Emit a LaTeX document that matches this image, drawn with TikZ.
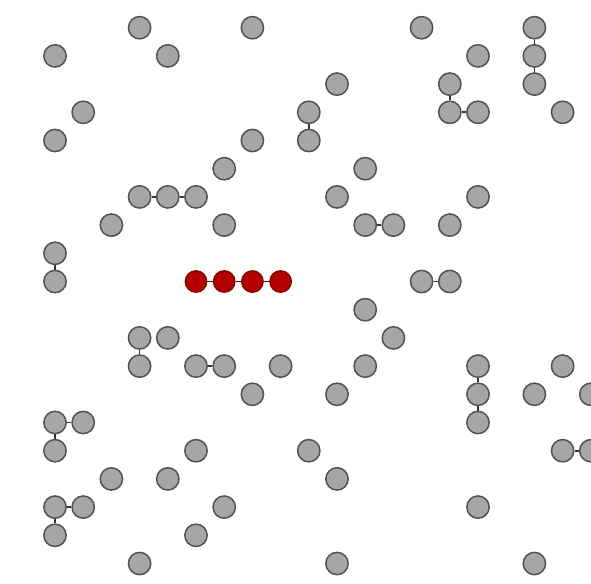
\documentclass[tikz,border=0pt]{standalone}
\begin{document}
\begin{tikzpicture}[x=0.03cm,y=-0.03cm,
  gnode/.style={circle,draw=black!68,fill=black!35,line width=0.045cm,minimum size=0.67cm,inner sep=0pt},
  rnode/.style={circle,draw=red!55!black,fill=red!70!black,line width=0.045cm,minimum size=0.64cm,inner sep=0pt},
  link/.style={draw=black!80,line width=0.05cm},
  rlink/.style={draw=red!40!black,line width=0.05cm}]
\useasboundingbox (0,0) rectangle (591,583);
\clip (0,0) rectangle (591,583);
% grey nodes: name n<row>-<col>
\foreach \r/\c in {0/4,0/8,0/14,0/18,
  1/1,1/5,1/16,1/18,
  2/11,2/15,2/18,
  3/2,3/10,3/15,3/16,3/19,
  4/1,4/8,4/10,
  5/7,5/12,
  6/4,6/5,6/6,6/11,6/16,
  7/3,7/7,7/12,7/13,7/15,
  8/1,
  9/1,9/14,9/15,
  10/12,
  11/4,11/5,11/13,
  12/4,12/6,12/7,12/9,12/12,12/16,12/19,
  13/8,13/11,13/16,13/18,13/20,
  14/1,14/2,14/16,
  15/1,15/6,15/10,15/19,15/20,
  16/3,16/5,16/11,
  17/1,17/2,17/7,17/16,
  18/1,18/6,
  19/4,19/11,19/18}
  {\node[gnode] (n\r-\c) at ({26.8+28.2*\c},{27.7+28.2*\r}) {};}
% red nodes
\foreach \c in {6,7,8,9}
  {\node[rnode] (n9-\c) at ({26.8+28.2*\c},{27.7+28.2*9}) {};}
% edges
\foreach \a/\b in {0-18/1-18,1-18/2-18,2-15/3-15,3-15/3-16,3-10/4-10,
  6-4/6-5,6-5/6-6,7-12/7-13,8-1/9-1,9-14/9-15,11-4/12-4,12-6/12-7,
  12-16/13-16,13-16/14-16,14-1/14-2,14-1/15-1,15-19/15-20,17-1/17-2,17-1/18-1}
  {\draw[link] (n\a) -- (n\b);}
\foreach \a/\b in {9-6/9-7,9-7/9-8,9-8/9-9}
  {\draw[rlink] (n\a) -- (n\b);}
\end{tikzpicture}
\end{document}
